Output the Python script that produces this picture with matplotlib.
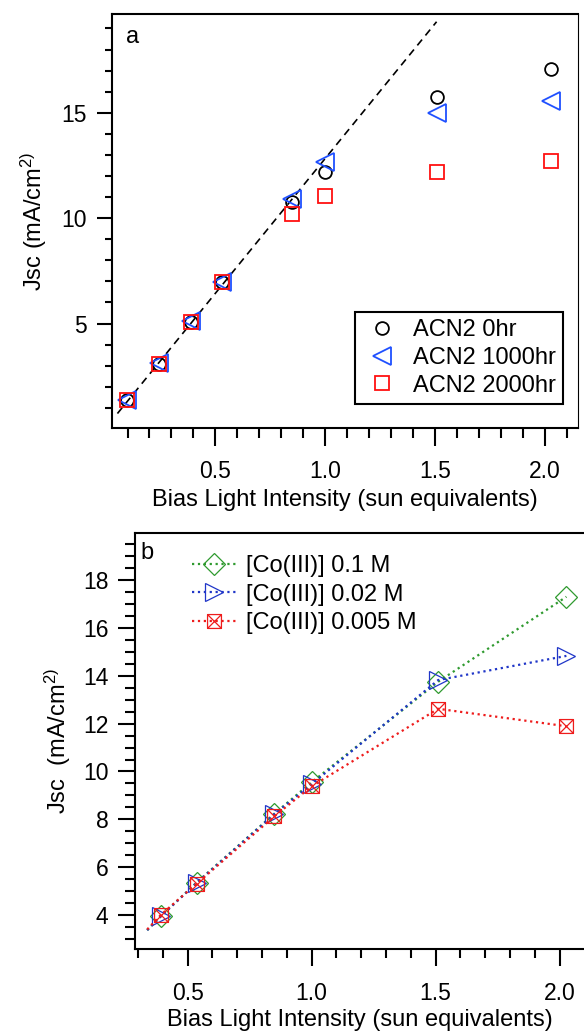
import matplotlib
matplotlib.use("Agg")
import matplotlib.pyplot as plt
from matplotlib.path import Path
from matplotlib.ticker import MultipleLocator

plt.rcParams["font.family"] = ["Liberation Sans", "DejaVu Sans"]
plt.rcParams["mathtext.default"] = "regular"
plt.rcParams["font.size"] = 17
plt.rcParams["xtick.labelsize"] = 16.5
plt.rcParams["ytick.labelsize"] = 16.5

# panel a: Jsc vs bias light, aging series
a_x = [0.096, 0.241, 0.388, 0.532, 0.851, 0.998, 1.507, 2.026]
a_0hr = [1.36, 3.10, 5.08, 6.95, 10.77, 12.20, 15.76, 17.09]
a_1000hr = [1.39, 3.12, 5.10, 6.97, 10.90, 12.67, 14.97, 15.57]
a_2000hr = [1.36, 3.10, 5.08, 6.95, 10.22, 11.06, 12.20, 12.71]
fit_x = [0.054, 1.507]
fit_y = [0.73, 19.32]
a_labels = ["ACN2 0hr", "ACN2 1000hr", "ACN2 2000hr"]

# panel b: Jsc vs bias light, Co(III) concentration (first point is line start only)
b_x = [0.337, 0.393, 0.536, 0.850, 1.000, 1.510, 2.027]
b_01 = [3.37, 3.96, 5.36, 8.24, 9.55, 13.75, 17.30]
b_002 = [3.37, 3.96, 5.34, 8.22, 9.47, 13.82, 14.83]
b_0005 = [3.40, 4.02, 5.31, 8.13, 9.38, 12.62, 11.89]
b_labels = ["[Co(III)] 0.1 M", "[Co(III)] 0.02 M", "[Co(III)] 0.005 M"]

ylab = "Jsc (mA/cm$^{2)}$"
xlab = "Bias Light Intensity (sun equivalents)"

box_x = Path([(-0.5, -0.5), (0.5, -0.5), (0.5, 0.5), (-0.5, 0.5), (-0.5, -0.5),
              (-0.5, -0.5), (0.5, 0.5), (-0.5, 0.5), (0.5, -0.5)],
             [Path.MOVETO, Path.LINETO, Path.LINETO, Path.LINETO, Path.CLOSEPOLY,
              Path.MOVETO, Path.LINETO, Path.MOVETO, Path.LINETO])


def style_axes(ax, xmaj_len, xmin_len, ymaj_len, ymin_len, xpad, ypad):
    for s in ax.spines.values():
        s.set_linewidth(1.5)
    ax.tick_params(which="both", direction="out", width=1.5)
    ax.tick_params(axis="x", which="major", length=xmaj_len, pad=xpad)
    ax.tick_params(axis="x", which="minor", length=xmin_len)
    ax.tick_params(axis="y", which="major", length=ymaj_len, pad=ypad)
    ax.tick_params(axis="y", which="minor", length=ymin_len)


fig = plt.figure(figsize=(5.84, 10.33), dpi=100)

# ---- panel a
ax = fig.add_axes([0.1913, 0.5854, 0.7985, 0.4011])
ax.plot(fit_x, fit_y, color="black", lw=1.2, dashes=(4.5, 3.2))
ax.plot(a_x, a_0hr, ls="none", marker="o", ms=9.2, mfc="none", mec="black", mew=1.3, label=a_labels[0])
ax.plot(a_x, a_1000hr, ls="none", marker="<", ms=13, mfc="none", mec="#1f50ff", mew=1.3, label=a_labels[1])
ax.plot(a_x, a_2000hr, ls="none", marker="s", ms=9.7, mfc="none", mec="#ff1010", mew=1.3, label=a_labels[2])
ax.set_xlim(0.028, 2.151)
ax.set_ylim(0.03, 19.69)
ax.xaxis.set_major_locator(MultipleLocator(0.5))
ax.xaxis.set_minor_locator(MultipleLocator(0.1))
ax.yaxis.set_major_locator(MultipleLocator(5))
ax.yaxis.set_minor_locator(MultipleLocator(1))
ax.xaxis.set_major_formatter(lambda v, p: f"{v:.1f}")
style_axes(ax, 13, 7.5, 11, 5, 10, 7)
ax.spines["right"].set_linewidth(0.8)
ax.set_xlabel(xlab, labelpad=4)
ax.set_ylabel(ylab, labelpad=9)
ax.text(0.044, 0.945, "a", transform=ax.transAxes, ha="center", va="center")
leg = ax.legend(loc="lower right", bbox_to_anchor=(0.968, 0.059), fancybox=False,
                edgecolor="black", framealpha=1, handlelength=1.65, handletextpad=0.5,
                labelspacing=0.25, borderpad=0.3, borderaxespad=0)
leg.get_frame().set_linewidth(1.5)

# ---- panel b
bx = fig.add_axes([0.2308, 0.081, 0.7692, 0.4027])
bx.plot(b_x, b_01, ls=":", lw=1.6, color="#2f9a2f", marker="D", ms=11, mfc="none", mew=0.9,
        markevery=list(range(1, len(b_x))), label=b_labels[0])
bx.plot(b_x, b_002, ls=":", lw=1.6, color="#2036c8", marker=">", ms=12.5, mfc="none", mew=0.9,
        markevery=list(range(1, len(b_x))), label=b_labels[1])
bx.plot(b_x, b_0005, ls=":", lw=1.6, color="#ee1c1c", marker=box_x, ms=10, mfc="none", mew=0.9,
        markevery=list(range(1, len(b_x))), label=b_labels[2])
bx.set_xlim(0.287, 2.098)
bx.set_ylim(2.57, 19.95)
bx.xaxis.set_major_locator(MultipleLocator(0.5))
bx.xaxis.set_minor_locator(MultipleLocator(0.1))
bx.yaxis.set_major_locator(MultipleLocator(2))
bx.yaxis.set_minor_locator(MultipleLocator(0.5))
bx.xaxis.set_major_formatter(lambda v, p: f"{v:.1f}")
style_axes(bx, 12.5, 6.5, 12.5, 7, 11, 6.5)
bx.spines["right"].set_visible(False)
bx.set_xlabel(xlab, labelpad=3)
bx.set_ylabel(ylab.replace("Jsc ", "Jsc  "), labelpad=7)
bx.text(0.027, 0.953, "b", transform=bx.transAxes, ha="center", va="center")
bx.legend(loc="upper left", bbox_to_anchor=(0.127, 0.948), frameon=False, borderpad=0,
          borderaxespad=0, handlelength=1.85, handletextpad=0.45, labelspacing=0.28)

fig.savefig("out.png", dpi=100)
